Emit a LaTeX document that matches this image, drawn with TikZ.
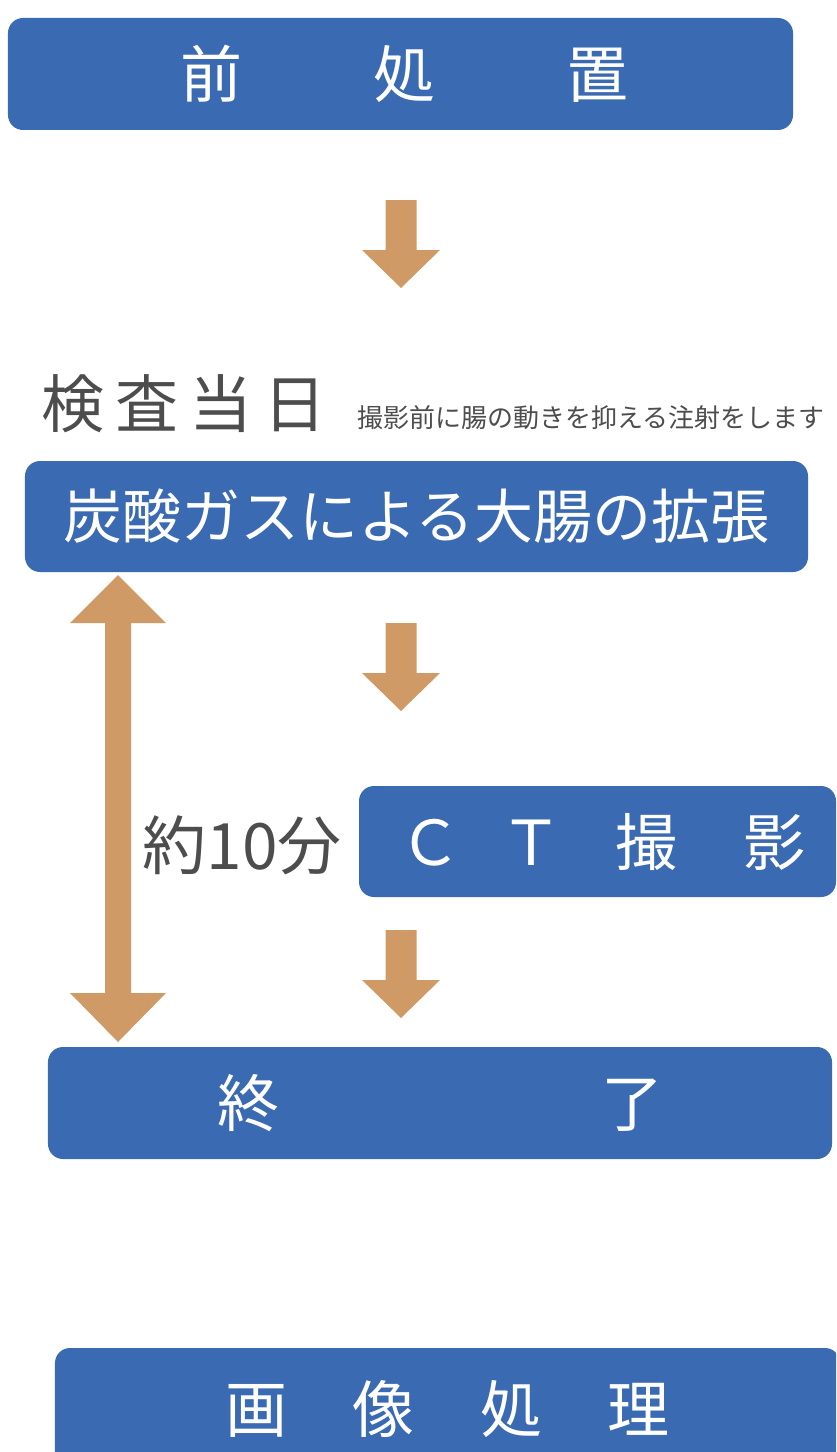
\documentclass[tikz,border=0pt]{standalone}
\usepackage{fontspec}
\setmainfont{Noto Sans CJK JP}
\newcommand\jpsize[1]{\fontsize{#1bp}{#1bp}\selectfont}
\definecolor{boxblue}{HTML}{3A6AB1}
\definecolor{arrowtan}{HTML}{D09A66}
\definecolor{txtgray}{HTML}{4D4D4D}
\begin{document}
\begin{tikzpicture}[x=1bp,y=-1bp,
  bluebox/.style={fill=boxblue, rounded corners=15bp, text=white, inner sep=0pt, anchor=center},
  graytext/.style={text=txtgray, inner sep=0pt, anchor=center},
  downarrow/.pic={\fill[arrowtan] (-15.5,0) -- (15.5,0) -- (15.5,50) -- (39,50) -- (0,88) -- (-39,50) -- (-15.5,50) -- cycle;}
]
\useasboundingbox (0,0) rectangle (836,1452);
\clip (0,0) rectangle (836,1452);

% boxes
\node[bluebox, minimum width=785bp, minimum height=112bp, font=\jpsize{62}] (pre) at (400.5,74)
  {\hspace{8bp}前\hspace{131bp}処\hspace{131bp}置};
\node[bluebox, minimum width=783bp, minimum height=111bp, font=\jpsize{59}] (gas) at (416.5,516.5)
  {炭酸ガスによる大腸の拡張};
\node[bluebox, minimum width=477bp, minimum height=111bp, font=\jpsize{62}] (ct) at (597.5,841.5)
  {\hspace{10bp}Ｃ\hspace{40bp}Ｔ\hspace{53bp}撮\hspace{66bp}影};
\node[bluebox, minimum width=784bp, minimum height=112bp, font=\jpsize{62}] (end) at (440,1103)
  {終\hspace{322bp}了};
\node[bluebox, minimum width=785bp, minimum height=122bp, font=\jpsize{62}] (img) at (447.5,1409)
  {画\hspace{65bp}像\hspace{66bp}処\hspace{65bp}理};

% texts
\node[graytext, font=\jpsize{63}] (day) at (184,404)
  {検\hspace{11bp}査\hspace{11bp}当\hspace{11bp}日};
\node[graytext, font=\jpsize{26}] (note) at (591,418)
  {撮影前に腸の動きを抑える注射をします};
\node[graytext, font=\jpsize{64}] (time) at (242,845) {約10分};

% block arrows
\pic at (401,200) {downarrow};
\pic at (401,623) {downarrow};
\pic at (401,930) {downarrow};

% double arrow (about 10 minutes)
\fill[arrowtan] (118,575) -- (166,623) -- (131,623) -- (131,993) -- (166,993) -- (118,1042)
  -- (70,993) -- (105,993) -- (105,623) -- (70,623) -- cycle;
\end{tikzpicture}
\end{document}
